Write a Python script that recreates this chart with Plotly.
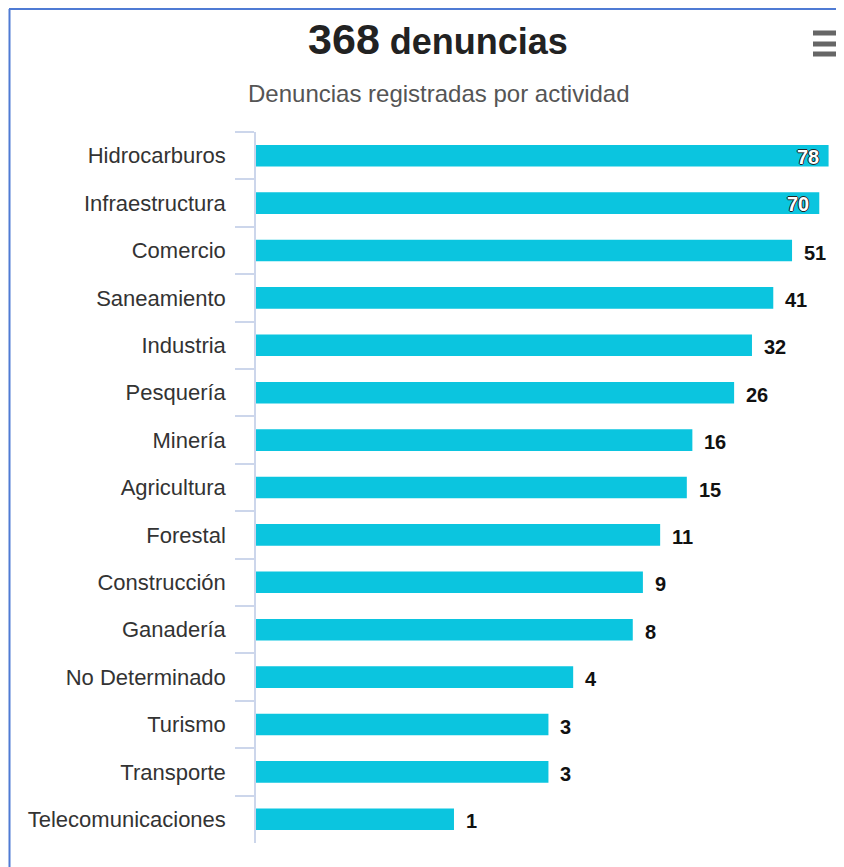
import math
import plotly.graph_objects as go

categories = ["Hidrocarburos", "Infraestructura", "Comercio", "Saneamiento", "Industria",
              "Pesquería", "Minería", "Agricultura", "Forestal", "Construcción",
              "Ganadería", "No Determinado", "Turismo", "Transporte", "Telecomunicaciones"]
values = [78, 70, 51, 41, 32, 26, 16, 15, 11, 9, 8, 4, 3, 3, 1]
total = 368
title_text = "denuncias"
subtitle_text = "Denuncias registradas por actividad"

# the page puts the figure at (8, 8); work in reference pixels minus that offset
OX, OY = 8, 8
W, H = 844 - OX, 867 - OY
L, R, T, B = 256 - OX, 0, 132 - OY, 24
pw = W - L - R
ph = H - T - B


def px(x):
    return (x - OX - L) / pw


def py(y):
    return (H - (y - OY) - B) / ph


BAR = "#0BC5DF"
FONT = "Liberation Sans, Arial, sans-serif"

fig = go.Figure(go.Bar(
    x=values, y=categories, orientation="h",
    marker=dict(color=BAR, line=dict(width=0)),
    width=0.455, hoverinfo="x+y",
))

annotations = []
for c, v in zip(categories, values):
    inside = v >= 70
    if inside:
        annotations.append(dict(
            x=math.log10(v), y=c, xref="x", yref="y", text=str(v), showarrow=False,
            xanchor="right", xshift=-8, yshift=-1,
            font=dict(family=FONT, size=20, color="#ffffff", weight="bold",
                      shadow="1px 0 0 #222, -1px 0 0 #222, 0 1px 0 #222, 0 -1px 0 #222")))
    else:
        annotations.append(dict(
            x=math.log10(v), y=c, xref="x", yref="y", text=str(v), showarrow=False,
            xanchor="left", xshift=10, yshift=-2,
            font=dict(family=FONT, size=20, color="#111111", weight="bold")))

# subtitle
annotations.append(dict(
    x=px(439), y=py(93), xref="paper", yref="paper",
    text=subtitle_text, showarrow=False, xanchor="center", yanchor="middle",
    font=dict(family=FONT, size=24, color="#555555")))

shapes = []
# hamburger menu icon
for yy in (33, 44, 54):
    shapes.append(dict(type="line", xref="paper", yref="paper",
                       x0=px(813), x1=px(846), y0=py(yy), y1=py(yy),
                       line=dict(color="#666666", width=5)))
# screenshot frame (blue border top/left)
shapes.append(dict(type="line", xref="paper", yref="paper",
                   x0=px(9.5), x1=px(9.5), y0=py(9), y1=py(870),
                   line=dict(color="#4f7bd4", width=2)))
shapes.append(dict(type="line", xref="paper", yref="paper",
                   x0=px(9), x1=px(846), y0=py(9), y1=py(9),
                   line=dict(color="#4f7bd4", width=2)))

fig.update_layout(
    width=W, height=H,
    margin=dict(l=L, r=R, t=T, b=B, autoexpand=False),
    paper_bgcolor="white", plot_bgcolor="white",
    showlegend=False,
    title=dict(
        text=f"<span style='font-size:43px'>{total}</span> {title_text}",
        x=(438 - OX) / W, xanchor="center", xref="container",
        y=1 - (41 - OY) / H, yanchor="middle", yref="container",
        font=dict(family=FONT, size=36, color="#222222", weight="bold")),
    xaxis=dict(type="log", range=[-1.0, 1.97], showgrid=False, zeroline=False,
               showline=False, showticklabels=False, ticks=""),
    yaxis=dict(categoryorder="array", categoryarray=categories, autorange="reversed",
               showgrid=False, zeroline=False, showline=True, linecolor="#ccd6eb",
               linewidth=1.5, ticks="outside", tickson="boundaries", ticklen=19,
               tickcolor="#ccd6eb", tickwidth=1.5, ticklabelstandoff=24,
               tickfont=dict(family=FONT, size=22, color="#333333")),
    annotations=annotations, shapes=shapes,
    bargap=0.545,
)

fig.write_html("out.html")
